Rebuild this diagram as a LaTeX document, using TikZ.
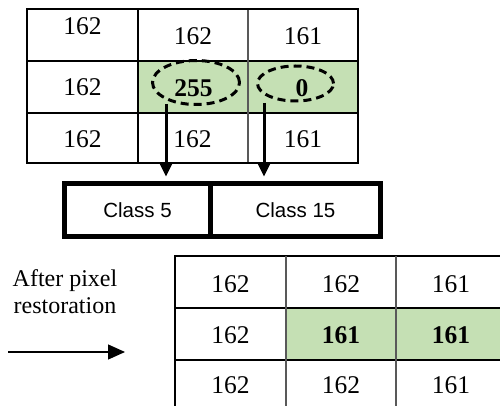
\documentclass[tikz,border=0pt]{standalone}
\usepackage{fontspec}
\setmainfont{Liberation Serif}
\newfontfamily\clsfont{Liberation Sans}
\usetikzlibrary{arrows.meta,shapes.geometric}
\definecolor{cellgreen}{HTML}{C5E0B4}
\begin{document}
\begin{tikzpicture}[x=1pt,y=-1pt,
 num/.style={font=\fontsize{25.5}{28}\selectfont, inner sep=0pt},
 bnum/.style={inner sep=0pt, font=\fontsize{25.5}{28}\selectfont\bfseries},
 hline/.style={line width=2pt, black},
 vline/.style={line width=1.6pt, black!65},
 oval/.style={ellipse, draw, line width=3pt, dash pattern=on 8pt off 5pt, inner sep=0pt},
 classbox/.style={draw, line width=5pt, minimum height=53pt, inner sep=0pt, outer sep=0pt, font=\clsfont\fontsize{20.5}{24}\selectfont},
 bigarrow/.style={line width=3pt, -{Triangle[length=14pt,width=13pt]}},
 thinarrow/.style={line width=1.3pt, -{Triangle[length=17pt,width=15pt]}},
 lbl/.style={font=\fontsize{24}{28}\selectfont, inner sep=0pt, anchor=base}
]
\useasboundingbox (0,0) rectangle (500,406);

% ---- top table ----
\fill[cellgreen] (138,61) rectangle (358,113);
\draw[hline] (27,61) -- (358,61);
\draw[hline] (27,113) -- (358,113);
\draw[hline] (138,9) -- (138,163);
\draw[vline] (248,9) -- (248,163);
\draw[hline] (27,9) rectangle (358,163);

\node[num] (t11) at (82.5,26.5) {162};
\node[num] (t12) at (193,36.5) {162};
\node[num] (t13) at (303,36.5) {161};
\node[num] (t21) at (82.5,87.5) {162};
\node[bnum] (t22) at (193.5,88) {255};
\node[bnum] (t23) at (302,88) {0};
\node[num] (t31) at (82.5,139) {162};
\node[num] (t32) at (192.5,139) {162};
\node[num] (t33) at (303,139) {161};

\node[oval, minimum width=87pt, minimum height=44pt] (e1) at (196,82.5) {};
\node[oval, minimum width=76pt, minimum height=35pt] (e2) at (295.5,83.5) {};

% ---- class boxes ----
\node[classbox, minimum width=146pt] (c5) at (137.5,210) {Class 5};
\node[classbox, minimum width=170pt] (c15) at (295.5,210) {Class 15};

\coordinate (a1) at (166,104);
\coordinate (a2) at (264,103);
\draw[bigarrow, shorten >=7pt] (a1) -- (a1 |- c5.north);
\draw[bigarrow, shorten >=7pt] (a2) -- (a2 |- c15.north);

% ---- label and arrow ----
\node[lbl] (l1) at (65,286) {After pixel};
\node[lbl] (l2) at (65,313) {restoration};
\coordinate (s) at (8,352);
\coordinate (t) at (125,352);
\draw[thinarrow] (s) -- (t);

% ---- bottom table ----
\fill[cellgreen] (286,308) rectangle (500,360);
\draw[hline] (174,256) -- (500,256);
\draw[hline] (175,308) -- (500,308);
\draw[hline] (175,360) -- (500,360);
\draw[hline] (175,255) -- (175,406);
\draw[vline] (286,256) -- (286,406);
\draw[vline] (396,256) -- (396,406);

\node[num] (b11) at (230.5,284) {162};
\node[num] (b12) at (341,284) {162};
\node[num] (b13) at (451,284) {161};
\node[num] (b21) at (230.5,335) {162};
\node[bnum] (b22) at (341,335) {161};
\node[bnum] (b23) at (451,335) {161};
\node[num] (b31) at (230.5,385) {162};
\node[num] (b32) at (341,385) {162};
\node[num] (b33) at (451,385) {161};
\end{tikzpicture}
\end{document}
